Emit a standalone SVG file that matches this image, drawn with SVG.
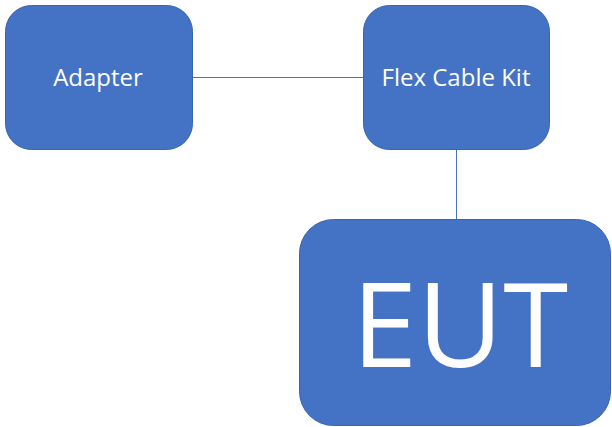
<svg xmlns="http://www.w3.org/2000/svg" width="612" height="427" viewBox="0 0 612 427">
<style>
.box{fill:#4472C4;stroke:#3A64B0;stroke-width:1}
.lbl{fill:#FFFFFF;font-family:"Open Sans","Liberation Sans",sans-serif;text-anchor:middle}
.conn{stroke:#4472C4;stroke-width:1;fill:none}
</style>
<rect width="612" height="427" fill="#FFFFFF"/>
<g id="connectors">
<line class="conn" x1="193" y1="77.5" x2="363" y2="77.5"/>
<line class="conn" x1="456.5" y1="150" x2="456.5" y2="220"/>
</g>
<g id="adapter">
<rect class="box" x="5.5" y="5.5" width="187" height="144" rx="26"/>
<text class="lbl" x="98" y="86" font-size="24">Adapter</text>
</g>
<g id="flex">
<rect class="box" x="363.5" y="5.5" width="186" height="144" rx="26"/>
<text class="lbl" x="456" y="86" font-size="24">Flex Cable Kit</text>
</g>
<g id="eut">
<rect class="box" x="299.5" y="219.5" width="311" height="206" rx="34"/>
<text class="lbl" x="460" y="367" font-size="118" font-weight="500">EUT</text>
</g>
</svg>
